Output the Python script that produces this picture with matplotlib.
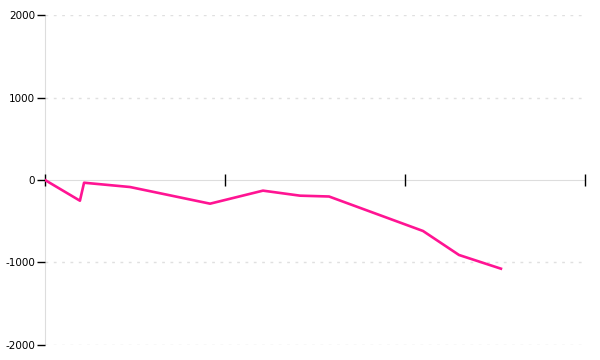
import matplotlib
matplotlib.use("Agg")
import matplotlib.pyplot as plt

x_vals = [0.0, 0.194, 0.217, 0.472, 0.917, 1.211, 1.417, 1.578, 2.1, 2.3, 2.533]
y_vals = [0, -251, -33, -85, -287, -129, -190, -200, -618, -909, -1075]
y_ticks = [-2000, -1000, 0, 1000, 2000]
x_ticks = [0, 1, 2, 3]

fig = plt.figure(figsize=(6, 3.6), dpi=100)
ax = fig.add_axes([0.075, 0.0417, 0.9, 0.9166])
ax.set_xlim(0, 3)
ax.set_ylim(-2000, 2000)

for yt in y_ticks:
    if yt != 0:
        ax.axhline(yt, color="#e0e0e0", lw=1, ls=(0, (2, 4)), zorder=0)

ax.plot(x_vals, y_vals, color="#ff1493", lw=1.9, zorder=3)

for s in ["top", "right"]:
    ax.spines[s].set_visible(False)
ax.spines["left"].set_color("#dddddd")
ax.spines["bottom"].set_color("#dddddd")
ax.spines["left"].set_zorder(0.5)
ax.spines["bottom"].set_zorder(0.5)
ax.spines["bottom"].set_position(("data", 0))

ax.set_yticks(y_ticks)
ax.set_yticklabels([str(v) for v in y_ticks])
ax.tick_params(axis="y", length=6, width=1, color="black", labelsize=7.5, pad=1)
ax.set_xticks(x_ticks)
ax.set_xticklabels([])
ax.tick_params(axis="x", direction="inout", length=9, width=1, color="black")

fig.savefig("out.png", dpi=100)
